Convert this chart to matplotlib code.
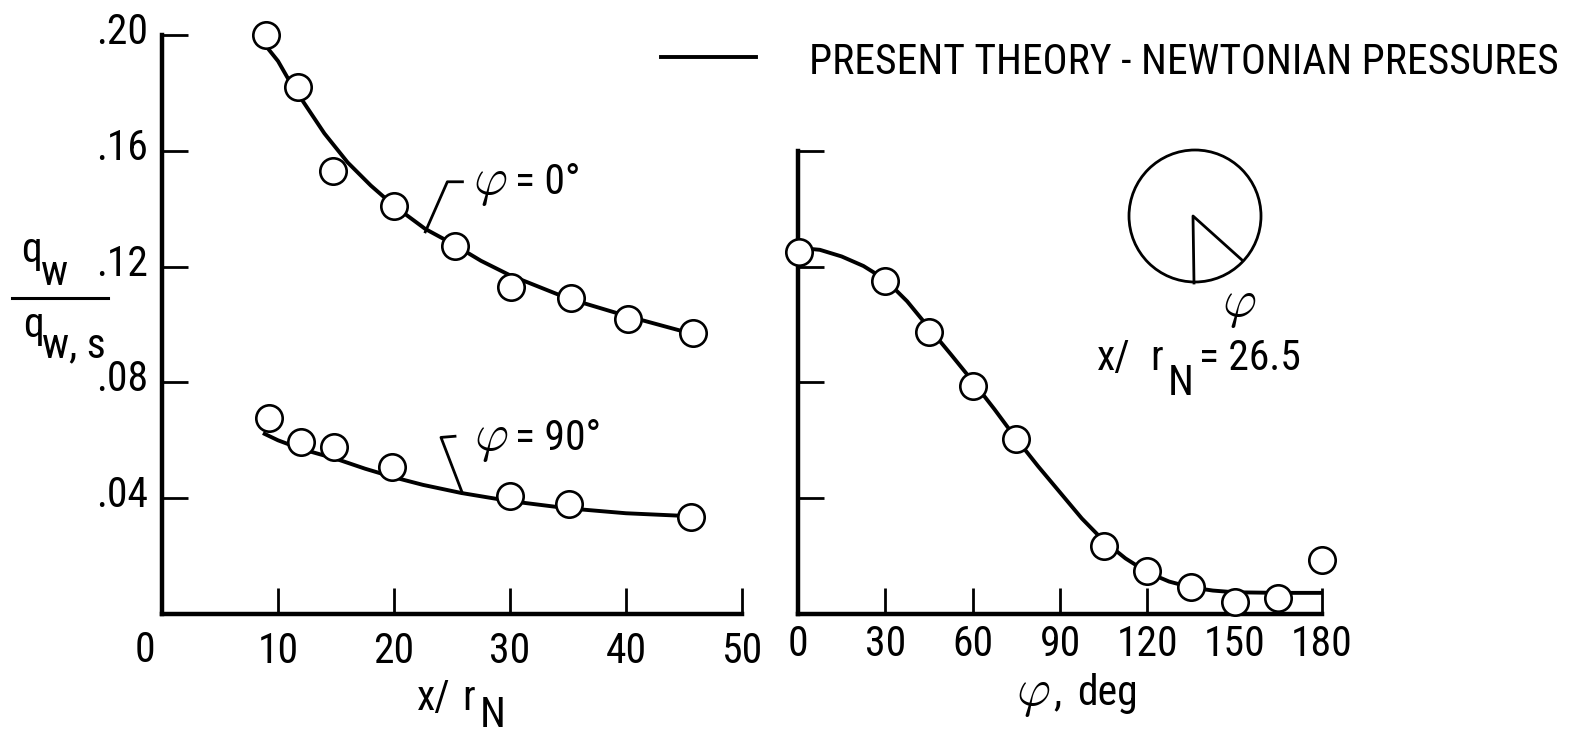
import matplotlib
matplotlib.use("Agg")
import matplotlib.pyplot as plt
from matplotlib import font_manager
from matplotlib.lines import Line2D
from matplotlib.patches import Circle
from matplotlib.transforms import ScaledTranslation

W, H = 1570, 734

# pick a narrow sans face, like the typewriter lettering of the original
ttf = font_manager.fontManager.ttflist
names = {f.name for f in ttf}
FONT, STRETCH = "DejaVu Sans", "normal"
for cand in ["Liberation Sans Narrow", "Roboto Condensed", "Open Sans Condensed",
             "Noto Sans Condensed", "DejaVu Sans Condensed", "Noto Sans SemiCondensed"]:
    if cand in names:
        FONT = cand
        break
else:
    cond = [f for f in ttf if str(f.stretch) in ("condensed", "semi-condensed", "extra-condensed")
            or "Condensed" in f.name or "Narrow" in f.name]
    if cond:
        pick = sorted(cond, key=lambda f: (f.style != "normal", f.weight != 400, f.name))[0]
        FONT, STRETCH = pick.name, pick.stretch
plt.rcParams["font.family"] = [FONT, "DejaVu Sans"]
plt.rcParams["font.stretch"] = STRETCH

# --- left panel: heating along the body, x/rN ---
x_phi0 = [9.0, 11.7, 14.7, 20.0, 25.3, 30.1, 35.3, 40.2, 45.8]
q_phi0 = [0.200, 0.182, 0.153, 0.141, 0.127, 0.113, 0.109, 0.102, 0.097]
x_phi90 = [9.2, 12.0, 14.8, 19.8, 30.0, 35.1, 45.6]
q_phi90 = [0.0676, 0.0593, 0.0576, 0.0507, 0.0407, 0.0379, 0.0335]

# theory curves
xt_phi0 = [9.0, 10, 11, 12, 13, 14, 15, 16, 17, 18, 20, 22.7, 25, 27.5, 30, 32.5, 35, 40, 45.5]
qt_phi0 = [0.196, 0.191, 0.184, 0.178, 0.172, 0.166, 0.161, 0.156, 0.152, 0.148, 0.141,
           0.133, 0.128, 0.122, 0.117, 0.113, 0.109, 0.103, 0.097]
xt_phi90 = [8.7, 10, 12, 15, 17.5, 20, 22.5, 25.8, 30, 35, 40, 45.5]
qt_phi90 = [0.0625, 0.0600, 0.0570, 0.0536, 0.0502, 0.0472, 0.0446, 0.0418, 0.0390, 0.0365,
            0.0348, 0.0338]

# --- right panel: heating around the body at x/rN = 26.5 ---
phi_pts = [0.5, 30, 45, 60, 75, 105, 120, 135, 150, 165, 180]
q_phi_pts = [0.125, 0.115, 0.0975, 0.0787, 0.0605, 0.0234, 0.0148, 0.0093, 0.0041, 0.0056, 0.0188]
phi_t = [0, 7.5, 15, 22.5, 30, 37.5, 45, 52.5, 60, 67.5, 75, 82.5, 90, 97.5, 105, 112.5,
         120, 127.5, 135, 142.5, 150, 165, 180]
q_phi_t = [0.1265, 0.1258, 0.1235, 0.1202, 0.1155, 0.1080, 0.0988, 0.0897, 0.0804, 0.0707,
           0.0605, 0.0510, 0.0420, 0.0330, 0.0253, 0.0192, 0.0144, 0.0112, 0.0092, 0.0081,
           0.0075, 0.0073, 0.0073]

left_xticks = [10, 20, 30, 40, 50]
left_yticks = [0.04, 0.08, 0.12, 0.16, 0.20]
left_ylabels = [".04", ".08", ".12", ".16", ".20"]
right_xticks = [0, 30, 60, 90, 120, 150, 180]
right_yticks = [0.04, 0.08, 0.12, 0.16]

FS = 30 if FONT != "DejaVu Sans" or STRETCH != "normal" else 22
FS_PHI = FS * 1.25
LW = 2.8
PHI = r"$\varphi$"


def fx(px):
    return px / W


def fy(py):
    return 1 - py / H


fig = plt.figure(figsize=(W / 100, H / 100), dpi=100)
ax1 = fig.add_axes([fx(162), fy(614), (742 - 162) / W, (614 - 35) / H])
ax2 = fig.add_axes([fx(798), fy(614), (1322 - 798) / W, (614 - 35) / H])

for ax in (ax1, ax2):
    ax.spines["top"].set_visible(False)
    ax.spines["right"].set_visible(False)
    ax.spines["left"].set_linewidth(3.2)
    ax.spines["bottom"].set_linewidth(3.2)
    ax.set_ylim(0, 0.20)
    ax.tick_params(direction="in", length=19, width=2.0, labelsize=FS)
    ax.tick_params(axis="y", pad=10)
ax1.tick_params(axis="x", pad=12)
ax2.tick_params(axis="x", pad=7)

ax1.set_xlim(0, 50)
ax1.set_xticks(left_xticks)
ax1.set_yticks(left_yticks)
ax1.set_yticklabels(left_ylabels)

ax2.set_xlim(0, 180)
ax2.set_xticks(right_xticks)
ax2.set_yticks(right_yticks)
ax2.set_yticklabels([])
ax2.spines["left"].set_bounds(0, 0.16)

# the printed y labels sit a little above their ticks
lift = ScaledTranslation(0, 0.07, fig.dpi_scale_trans)
for lab in ax1.get_yticklabels():
    lab.set_transform(lab.get_transform() + lift)

mk = dict(marker="o", ms=19, mew=1.9, mfc="white", mec="black", ls="none", clip_on=False, zorder=3)
ax1.plot(xt_phi0, qt_phi0, color="black", lw=LW, solid_capstyle="butt")
ax1.plot(xt_phi90, qt_phi90, color="black", lw=LW, solid_capstyle="butt")
ax1.plot(x_phi0, q_phi0, **mk)
ax1.plot(x_phi90, q_phi90, **mk)

ax2.plot(phi_t, q_phi_t, color="black", lw=LW, solid_capstyle="butt", clip_on=False)
ax2.plot(phi_pts, q_phi_pts, **mk)

# leaders and curve labels
ax1.plot([22.7, 24.6, 25.9], [0.132, 0.1493, 0.1493], color="black", lw=2.0)
ax1.plot([25.9, 24.05, 25.26], [0.0417, 0.0610, 0.0614], color="black", lw=2.0)
ax1.text(26.8, 0.1452, PHI, fontsize=FS_PHI, math_fontfamily="cm", va="baseline", ha="left")
ax1.text(30.4, 0.1452, "= 0\u00b0", fontsize=FS, va="baseline", ha="left")
ax1.text(26.9, 0.0566, PHI, fontsize=FS_PHI, math_fontfamily="cm", va="baseline", ha="left")
ax1.text(30.4, 0.0566, "= 90\u00b0", fontsize=FS, va="baseline", ha="left")

# origin label shared by both axes
fig.text(fx(145), fy(650), "0", fontsize=FS, ha="center", va="center")

# axis labels
fig.text(fx(417), fy(710), "x/", fontsize=FS, ha="left", va="baseline")
fig.text(fx(462), fy(710), "r", fontsize=FS, ha="left", va="baseline")
fig.text(fx(480), fy(727), "N", fontsize=FS, ha="left", va="baseline")
fig.text(fx(1016), fy(705), PHI, fontsize=FS_PHI, math_fontfamily="cm", ha="left", va="baseline")
fig.text(fx(1053), fy(705), ",", fontsize=FS, ha="left", va="baseline")
fig.text(fx(1077), fy(705), "deg", fontsize=FS, ha="left", va="baseline")

# y label as a fraction
fig.text(fx(21), fy(262), "q", fontsize=FS, ha="left", va="baseline")
fig.text(fx(41), fy(285), "w", fontsize=FS, ha="left", va="baseline")
fig.add_artist(Line2D([fx(12), fx(108)], [fy(298), fy(298)], color="black", lw=2.2))
fig.text(fx(23), fy(337), "q", fontsize=FS, ha="left", va="baseline")
fig.text(fx(42), fy(357), "w, s", fontsize=FS, ha="left", va="baseline")

# legend
fig.add_artist(Line2D([fx(661), fx(756)], [fy(57), fy(57)], color="black", lw=2.8))
fig.text(fx(809), fy(74), "PRESENT THEORY - NEWTONIAN PRESSURES", fontsize=FS, ha="left", va="baseline")

# cross-section sketch
axc = fig.add_axes([fx(1195 - 80), fy(216 + 80), 160 / W, 160 / H])
axc.set_xlim(-80, 80)
axc.set_ylim(-80, 80)
axc.axis("off")
axc.add_patch(Circle((0, 0), 66, fill=False, lw=2.0, color="black"))
axc.plot([-1, -2, 47], [-67, 0, -44], color="black", lw=2.0)
fig.text(fx(1239), fy(305), PHI, fontsize=FS_PHI, math_fontfamily="cm", ha="center", va="center")
fig.text(fx(1097), fy(370), "x/", fontsize=FS, ha="left", va="baseline")
fig.text(fx(1150), fy(370), "r", fontsize=FS, ha="left", va="baseline")
fig.text(fx(1168), fy(395), "N", fontsize=FS, ha="left", va="baseline")
fig.text(fx(1199), fy(370), "= 26.5", fontsize=FS, ha="left", va="baseline")

fig.savefig("out.png", dpi=100)
